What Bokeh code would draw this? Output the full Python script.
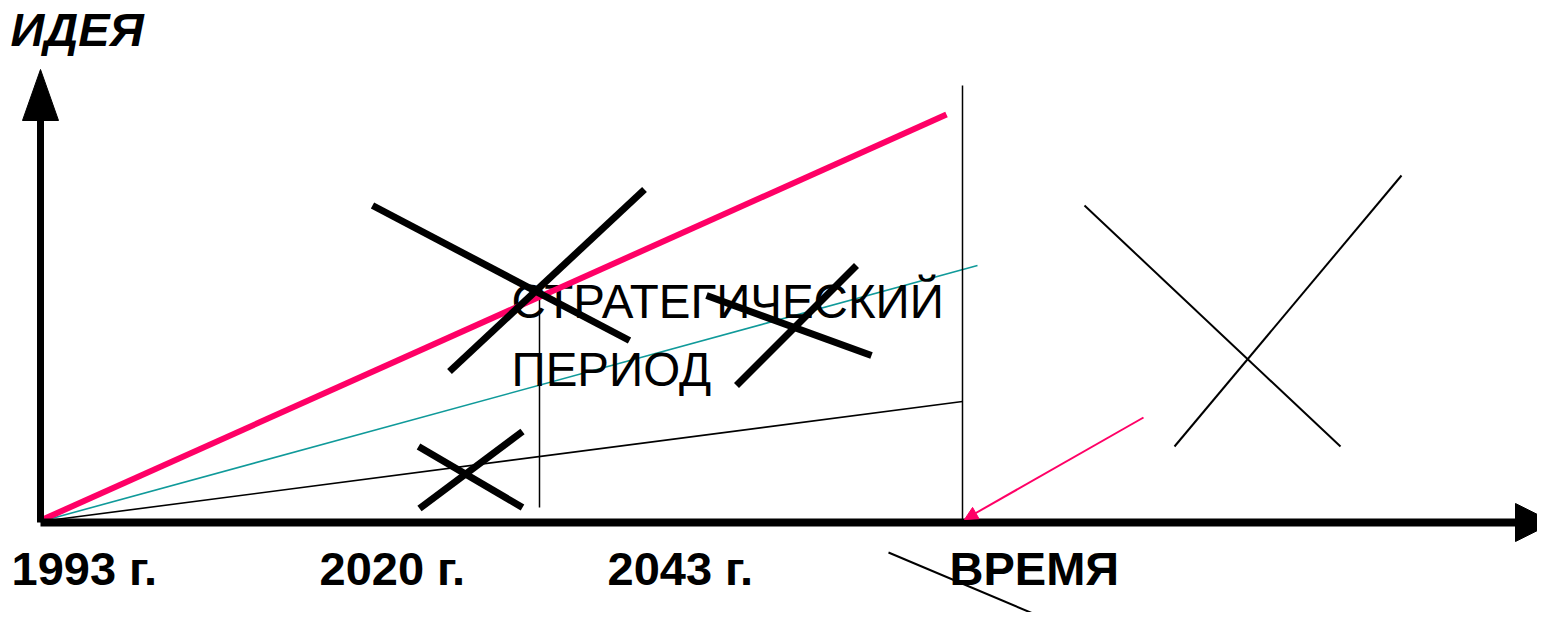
from bokeh.plotting import figure
from bokeh.models import Range1d, Arrow, NormalHead
from bokeh.core.properties import value
from bokeh.embed import file_html
from bokeh.resources import INLINE

# ---- diagram data (reference pixel space) ----
axis_h_x = [40, 1515]
axis_h_y = [522, 522]
axis_v_x = [40, 40]
axis_v_y = [522, 118]
head_up_x = [22, 58, 40]
head_up_y = [120, 120, 69]
head_right_x = [1515, 1515, 1553]
head_right_y = [503, 541, 522]

pink_x = [40, 946]
pink_y = [520, 114]
teal_x = [40, 977]
teal_y = [521, 265]
black_x = [40, 962]
black_y = [521, 401]

vline_x = [962, 539]
vline_y0 = [85, 290]
vline_y1 = [521, 507]

thick_x0 = [372, 644, 706, 856, 418, 522]
thick_y0 = [205, 189, 295, 265, 446, 431]
thick_x1 = [629, 449, 871, 736, 522, 419]
thick_y1 = [340, 371, 355, 385, 507, 508]

thin_x0 = [1084, 1401, 888]
thin_y0 = [205, 175, 552]
thin_x1 = [1340, 1174, 1068]
thin_y1 = [446, 446, 628]

arrow_start = (1143, 417)
arrow_end = (964, 519)

year_labels = ["1993 г.", "2020 г.", "2043 г.", "ВРЕМЯ"]
year_x = [11, 319, 607, 949]
year_y = [568, 568, 568, 568]

idea_label = "ИДЕЯ"
idea_x = [10]
idea_y = [29]
period_lines = ["СТРАТЕГИЧЕСКИЙ", "ПЕРИОД"]
period_x = [511, 511]
period_y = [301, 369]

W, H = 1537, 612
p = figure(width=W, height=H, output_backend="svg", toolbar_location=None,
           x_range=Range1d(0, W), y_range=Range1d(H, 0),
           min_border=0, outline_line_color=None)
p.axis.visible = False
p.grid.visible = False
p.background_fill_color = "white"
p.border_fill_color = "white"

FONT = value("Liberation Sans")

# thin lines
p.line(black_x, black_y, line_color="black", line_width=1.6)
p.line(teal_x, teal_y, line_color="#109a9a", line_width=1.6)
p.segment(vline_x, vline_y0, vline_x, vline_y1, line_color="black", line_width=1.5)

# text in the middle
p.text(period_x, period_y, text=period_lines, text_font=FONT, text_font_size="47.5px",
       text_color="black", text_baseline="alphabetic", text_align="left")

# pink main line
p.line(pink_x, pink_y, line_color="#FF0066", line_width=6)

# thick crosses
p.segment(thick_x0, thick_y0, thick_x1, thick_y1, line_color="black", line_width=7)

# thin crosses / slash
p.segment(thin_x0, thin_y0, thin_x1, thin_y1, line_color="black", line_width=2)

# pink arrow
p.add_layout(Arrow(x_start=arrow_start[0], y_start=arrow_start[1],
                   x_end=arrow_end[0], y_end=arrow_end[1],
                   line_color="#FF0066", line_width=2,
                   end=NormalHead(size=13, fill_color="#FF0066", line_color="#FF0066", line_width=1)))

# axes
p.line(axis_h_x, axis_h_y, line_color="black", line_width=8)
p.line(axis_v_x, axis_v_y, line_color="black", line_width=7)
p.patch(head_up_x, head_up_y, fill_color="black", line_color="black")
p.patch(head_right_x, head_right_y, fill_color="black", line_color="black")

# labels
p.text(year_x, year_y, text=year_labels, text_font=FONT, text_font_size="47px",
       text_font_style="bold", text_color="black", text_baseline="alphabetic")
p.text(idea_x, idea_y, text=[idea_label], text_font=FONT, text_font_size="47px",
       text_font_style="bold italic", text_color="black", text_baseline="alphabetic")

open("out.html", "w").write(file_html(p, INLINE))
